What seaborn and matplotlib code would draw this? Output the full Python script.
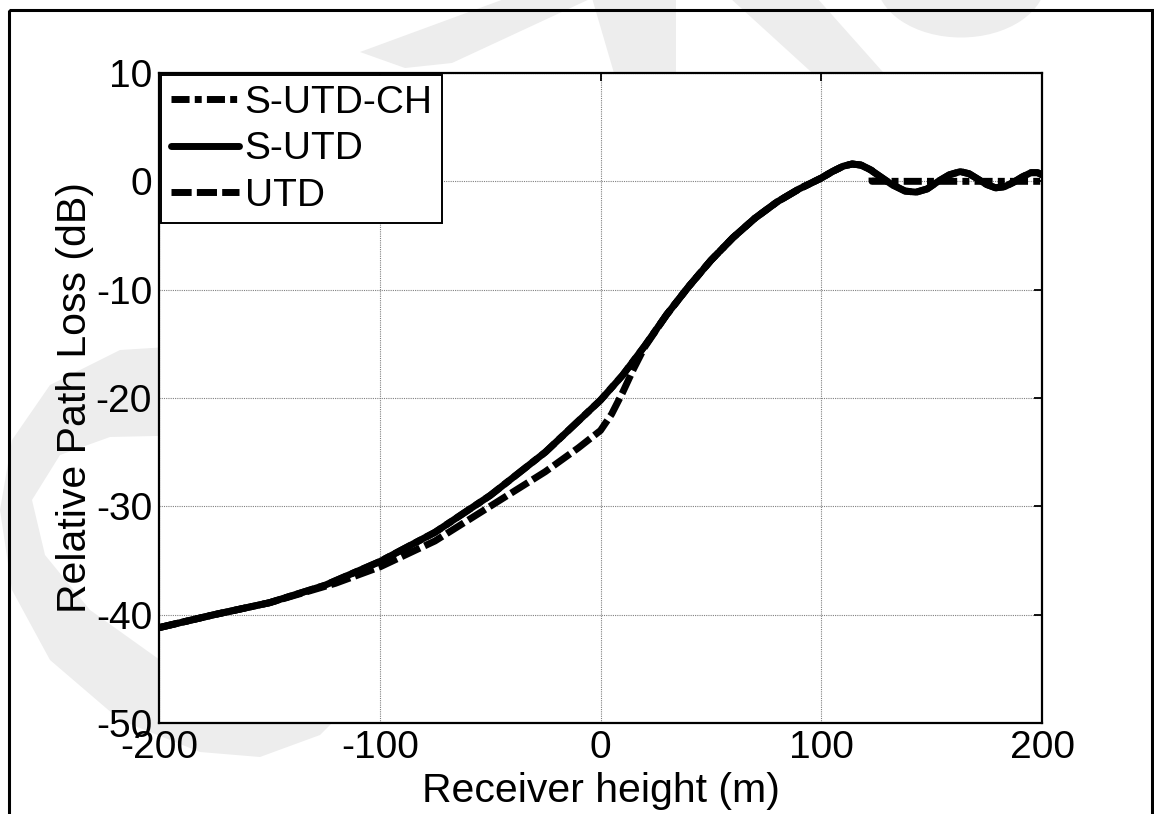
import numpy as np
import pandas as pd
import matplotlib
matplotlib.use("Agg")
import matplotlib.pyplot as plt
import matplotlib.patches as mpatches
import matplotlib.transforms as mtransforms
import seaborn as sns

# Receiver height (m) and relative path loss (dB) for each method
x_sutd = [-200, -175, -150, -125, -100, -75, -50, -25, 0, 10, 20, 30, 40, 50, 60, 70,
          80, 90, 100, 105, 110, 114, 118, 122, 127, 132, 138, 143, 148, 153, 158, 163,
          167, 171, 175, 179, 183, 187, 191, 195, 198, 200]
y_sutd = [-41.2, -40.0, -38.9, -37.3, -35.1, -32.4, -29.0, -25.0, -20.2, -17.9, -15.2,
          -12.3, -9.7, -7.3, -5.2, -3.4, -1.9, -0.7, 0.3, 0.9, 1.4, 1.6, 1.5, 1.1, 0.4,
          -0.3, -0.9, -1.0, -0.7, 0.0, 0.6, 0.9, 0.7, 0.2, -0.3, -0.6, -0.5, -0.1, 0.4,
          0.8, 0.8, 0.6]

x_utd = [-200, -175, -150, -135, -120, -100, -75, -50, -25, -10, 0, 5, 10, 15, 20, 30,
         40, 50, 60, 70, 80, 90, 100, 105, 110, 114, 118, 122, 127, 132, 138, 143, 148,
         153, 158, 163, 167, 171, 175, 179, 183, 187, 191, 195, 198, 200]
y_utd = [-41.2, -40.0, -38.9, -38.0, -37.1, -35.6, -33.2, -30.0, -26.8, -24.6, -23.0,
         -21.5, -19.5, -17.3, -15.3, -12.3, -9.7, -7.3, -5.2, -3.4, -1.9, -0.7, 0.3,
         0.9, 1.4, 1.6, 1.5, 1.1, 0.4, -0.3, -0.9, -1.0, -0.7, 0.0, 0.6, 0.9, 0.7, 0.2,
         -0.3, -0.6, -0.5, -0.1, 0.4, 0.8, 0.8, 0.6]

x_sutd_ch = [-200, -175, -150, -125, -100, -75, -50, -25, 0, 10, 20, 30, 40, 50, 60, 70,
             80, 90, 100, 105, 110, 114, 118, 122, 123, 123, 200]
y_sutd_ch = [-41.2, -40.0, -38.9, -37.3, -35.1, -32.4, -29.0, -25.0, -20.2, -17.9, -15.2,
             -12.3, -9.7, -7.3, -5.2, -3.4, -1.9, -0.7, 0.3, 0.9, 1.4, 1.6, 1.5, 1.1,
             1.0, 0.0, 0.0]

series_labels = ["S-UTD-CH", "S-UTD", "UTD"]
x_ticks = [-200, -100, 0, 100, 200]
y_ticks = [-50, -40, -30, -20, -10, 0, 10]

sns.set_style("white")
plt.rcParams["font.family"] = ["Liberation Sans", "DejaVu Sans"]
plt.rcParams["axes.unicode_minus"] = False
plt.rcParams["text.color"] = "black"
plt.rcParams["axes.labelcolor"] = "black"
plt.rcParams["xtick.color"] = "black"
plt.rcParams["ytick.color"] = "black"

W, H = 1154, 814
fig = plt.figure(figsize=(W / 100, H / 100), dpi=100)
fig.patch.set_facecolor("white")

# pixel coordinates (origin top-left) for the background decoration
px = mtransforms.Affine2D().scale(1 / W, -1 / H).translate(0, 1) + fig.transFigure
wm = "#ededed"

crescent = [(200, 345), (120, 350), (50, 385), (12, 440), (0, 510), (12, 590), (50, 660),
            (120, 720), (200, 752), (260, 757), (320, 735), (345, 710),
            (300, 715), (230, 695), (160, 660), (90, 610), (45, 555), (32, 500),
            (60, 455), (110, 437), (200, 435)]
shapes = [
    crescent,
    [(360, 52), (507, -2), (592, -2), (452, 63), (405, 68)],
    [(592, -2), (676, -2), (676, 80), (616, 80)],
    [(730, -2), (817, -2), (890, 80), (820, 80)],
]
for pts in shapes:
    fig.patches.append(mpatches.Polygon(pts, closed=True, transform=px, facecolor=wm,
                                        edgecolor="none", zorder=-5))
fig.patches.append(mpatches.Ellipse((961, -20), 170, 115, transform=px, facecolor=wm,
                                    edgecolor="none", zorder=-5))

# outer frame
fig.patches.append(mpatches.Rectangle((9, 10), 1143, 830, transform=px, fill=False,
                                      edgecolor="black", linewidth=2.2, zorder=10))

ax = fig.add_axes([159 / W, 1 - 723 / H, (1042 - 159) / W, (723 - 73) / H])
ax.set_facecolor("white")

lw = 5.0
sns.lineplot(x=x_utd, y=y_utd, ax=ax, color="black", linewidth=lw,
             estimator=None, sort=False)
l_utd = ax.lines[-1]
l_utd.set_dashes((2.9, 0.75))
sns.lineplot(x=x_sutd, y=y_sutd, ax=ax, color="black", linewidth=lw,
             estimator=None, sort=False)
l_sutd = ax.lines[-1]
sns.lineplot(x=x_sutd_ch, y=y_sutd_ch, ax=ax, color="black", linewidth=lw,
             estimator=None, sort=False)
l_ch = ax.lines[-1]
l_ch.set_dashes((2.6, 0.75, 1.0, 0.75))
for ln in (l_utd, l_sutd, l_ch):
    ln.set_solid_joinstyle("round")
    ln.set_dash_joinstyle("round")

fs_tick = 28
fs_label = 29.5

ax.set_xlim(-200, 200)
ax.set_ylim(-50, 10)
ax.set_xticks(x_ticks)
ax.set_yticks(y_ticks)
ax.grid(True, color="#808080", linestyle=(0, (1, 1)), linewidth=0.8)
ax.tick_params(direction="in", length=6, width=1.3, top=True, right=True,
               labelsize=fs_tick, colors="black", labelcolor="black", pad=5)
for s in ax.spines.values():
    s.set_visible(True)
    s.set_color("black")
    s.set_linewidth(1.6)

ax.set_xlabel("Receiver height (m)", fontsize=fs_label, labelpad=4, color="black")
ax.set_ylabel("Relative Path Loss (dB)", fontsize=fs_label, labelpad=1, color="black")

leg = ax.legend([l_ch, l_sutd, l_utd], series_labels, loc="upper left",
                borderaxespad=0.05, fontsize=fs_tick, frameon=True, fancybox=False,
                handlelength=1.75, handletextpad=0.15, labelspacing=0.27,
                borderpad=0.25, labelcolor="black")
leg.get_frame().set_edgecolor("black")
leg.get_frame().set_linewidth(1.4)
leg.get_frame().set_alpha(1)

fig.savefig("out.png", dpi=100, facecolor="white")
